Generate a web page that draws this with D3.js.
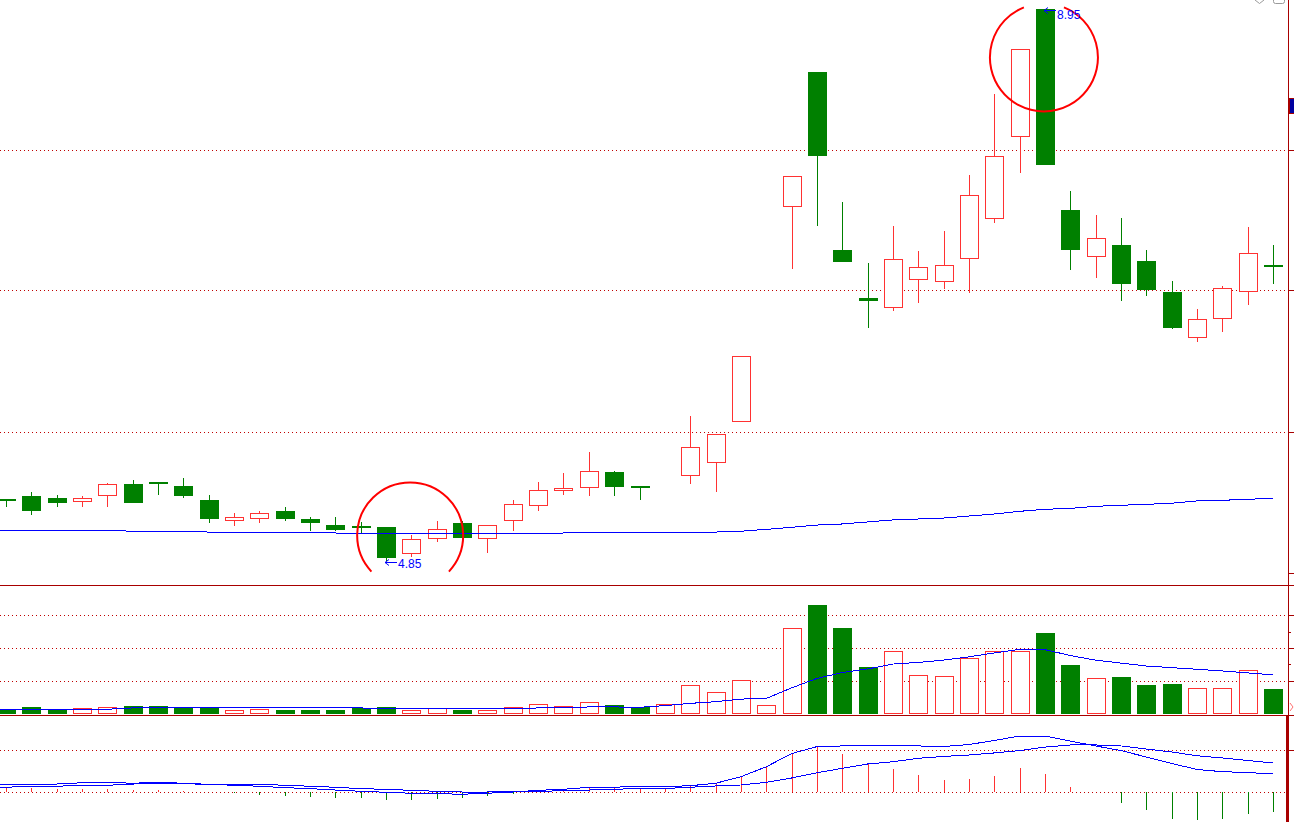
<!DOCTYPE html>
<html>
<head>
<meta charset="utf-8">
<script src="https://cdn.jsdelivr.net/npm/d3@7/dist/d3.min.js"></script>
<style>
html,body{margin:0;padding:0;background:#ffffff;overflow:hidden}
svg{display:block}
</style>
</head>
<body>
<svg id="chart" width="1294" height="822"></svg>
<script>
// ---------------- data ----------------
const dayIndex = [0,1,2,3,4,5,6,7,8,9,10,11,12,13,14,15,16,17,18,19,20,21,22,23,24,25,26,27,28,29,30,31,32,33,34,35,36,37,38,39,40,41,42,43,44,45,46,47,48,49,50];
// null = one-price day, no candle drawn
const openP  = [5.31,5.33,5.32,5.29,5.33,5.42,5.44,5.41,5.30,5.15,5.16,5.22,5.16,5.12,5.11,5.10,4.90,5.01,5.13,5.01,5.15,5.26,5.37,5.39,5.51,5.41,null,5.48,5.58,5.88,null,7.48,8.48,7.16,6.80,6.73,6.94,6.92,7.09,7.39,8.00,8.95,7.46,7.11,7.20,7.08,6.85,6.51,6.65,6.85,7.05];
const highP  = [5.31,5.36,5.34,5.33,5.43,5.45,5.44,5.47,5.34,5.21,5.22,5.25,5.18,5.18,5.14,5.10,5.04,5.15,5.15,5.12,5.30,5.44,5.50,5.66,5.52,5.41,null,5.93,5.79,6.37,null,7.71,8.48,7.52,7.06,7.34,7.15,7.30,7.72,8.32,8.65,8.95,7.60,7.42,7.40,7.16,6.93,6.72,6.89,7.33,7.20];
const lowP   = [5.25,5.19,5.25,5.25,5.25,5.28,5.34,5.32,5.13,5.11,5.13,5.15,5.07,5.07,5.05,4.85,4.88,4.99,5.02,4.91,5.07,5.22,5.34,5.33,5.33,5.30,null,5.42,5.36,5.88,null,7.02,7.34,7.07,6.58,6.71,6.77,6.87,6.84,7.36,7.73,7.79,7.01,6.95,6.78,6.82,6.57,6.48,6.55,6.75,6.91];
const closeP = [5.30,5.22,5.28,5.32,5.42,5.28,5.42,5.33,5.16,5.18,5.21,5.16,5.13,5.08,5.10,4.87,5.01,5.09,5.02,5.12,5.27,5.38,5.39,5.52,5.40,5.40,null,5.70,5.79,6.37,null,7.71,7.86,7.07,6.78,7.09,7.03,7.05,7.57,7.86,8.65,7.79,7.16,7.25,6.91,6.86,6.58,6.65,6.88,7.14,7.04];
const priceMA = [5.073,5.078,5.078,5.078,5.078,5.071,5.071,5.071,5.065,5.065,5.058,5.058,5.058,5.058,5.051,5.051,5.051,5.051,5.051,5.051,5.051,5.051,5.058,5.058,5.058,5.058,5.058,5.065,5.065,5.071,5.085,5.100,5.117,5.125,5.140,5.155,5.162,5.169,5.184,5.199,5.219,5.234,5.241,5.256,5.264,5.271,5.279,5.296,5.301,5.308,5.316];
const volume = [13,20,13,17,20,23,23,20,20,11,14,11,11,11,16,20,12,17,12,11,20,28,23,34,26,19,28,86,65,101,25,260,331,261,142,190,117,114,169,190,190,246,148,107,111,87,90,77,77,132,75];
const volumeMA = [13,13,13,13,13,17,17,17,17,17,17,17,17,17,17,14,14,14,14,14,14,17,17,20,20,19,24,31,36,44,46,78,107,125,136,151,156,163,173,185,196,195,177,163,154,145,140,135,130,124,118];
const dif = [0.057,0.057,0.057,0.066,0.071,0.062,0.071,0.062,0.055,0.048,0.041,0.031,0.024,0.014,0.005,-0.002,-0.009,-0.012,-0.016,-0.009,0.000,0.012,0.019,0.034,0.034,0.041,0.038,0.045,0.062,0.109,0.180,0.274,0.324,0.329,0.329,0.329,0.329,0.325,0.339,0.368,0.400,0.400,0.364,0.329,0.296,0.250,0.204,0.161,0.145,0.139,0.129];
const dea = [0.034,0.041,0.041,0.048,0.048,0.057,0.059,0.059,0.055,0.055,0.055,0.048,0.041,0.034,0.024,0.019,0.012,0.005,0.000,0.000,0.002,0.005,0.009,0.014,0.019,0.026,0.025,0.034,0.043,0.050,0.069,0.100,0.137,0.169,0.200,0.216,0.241,0.254,0.264,0.279,0.296,0.321,0.336,0.336,0.329,0.307,0.286,0.259,0.243,0.225,0.207];
const macdHist = [0.034,0.029,0.021,0.021,0.021,0.014,0.014,0.009,0.000,-0.009,-0.021,-0.029,-0.036,-0.043,-0.043,-0.057,-0.057,-0.050,-0.043,-0.029,-0.014,0.000,0.014,0.034,0.026,0.026,0.026,0.043,0.055,0.109,0.176,0.269,0.319,0.271,0.200,0.164,0.121,0.086,0.093,0.114,0.171,0.129,0.036,-0.003,-0.076,-0.129,-0.191,-0.200,-0.191,-0.157,-0.143];
const priceGrid = [7.90, 6.86, 5.81];
const priceTicks = [7.90, 6.86, 5.81, 4.76];
const volGrid = [100, 200, 300];
const volTicks = [100, 150, 200, 250, 300];
const macdGrid = [0.3];
const markLow  = {label: "4.85", index: 15, price: 4.85, circleIndex: 15.95, circlePrice: 5.04};
const markHigh = {label: "8.95", index: 41, price: 8.95, circleIndex: 40.96, circlePrice: 8.59};

// ---------------- layout ----------------
const RED = '#ff3232', GREEN = '#008000', BLUE = '#0000ff';
const AXIS = '#a80000', GRID = '#c00000', RING = '#ff0000';
const AXIS_X = 1288;
const svg = d3.select('#chart');

const x  = d3.scaleLinear().domain([0, 50]).range([6, 1273]);
const y  = d3.scaleLinear().domain([4.85, 8.95]).range([561, 9]);
const yv = d3.scaleLinear().domain([0, 300]).range([713.5, 615.25]);
const ym = d3.scaleLinear().domain([0, 0.3]).range([792, 750]);

const defs = svg.append('defs');
defs.append('clipPath').attr('id','cPrice').append('rect').attr('x',0).attr('y',0).attr('width',AXIS_X).attr('height',585);
defs.append('clipPath').attr('id','cVol').append('rect').attr('x',0).attr('y',586).attr('width',AXIS_X).attr('height',129);
defs.append('clipPath').attr('id','cMacd').append('rect').attr('x',0).attr('y',716).attr('width',AXIS_X - 2).attr('height',106);

const cx = i => Math.round(x(i));
const isUp = i => openP[i] == null || closeP[i] >= openP[i];
// lines continue flat to the panel's left edge (series enters from off-screen)
const leftEdge = x.invert(0);
function seriesPath(arr, sc){
  const pts = [[x(leftEdge), sc(arr[0])]].concat(dayIndex.map(i => [x(i), sc(arr[i])]));
  return d3.line()(pts);
}

// ---------------- grid ----------------
const gridG = svg.append('g').attr('shape-rendering','crispEdges');
function dotted(yy){
  gridG.append('line').attr('x1',0).attr('x2',AXIS_X).attr('y1',Math.round(yy)+0.5).attr('y2',Math.round(yy)+0.5)
    .attr('stroke',GRID).attr('stroke-width',1).attr('stroke-dasharray','1,3');
}
priceGrid.forEach(v => dotted(y(v)));
volGrid.forEach(v => dotted(yv(v)));
macdGrid.forEach(v => dotted(ym(v)));
dotted(ym(0));

// ---------------- price panel ----------------
const pG = svg.append('g').attr('clip-path','url(#cPrice)').attr('shape-rendering','crispEdges');
dayIndex.forEach(i => {
  if (openP[i] == null) return;
  const o = openP[i], c = closeP[i], h = highP[i], l = lowP[i];
  const X = cx(i);
  let t = Math.round(y(Math.max(o,c))), b = Math.round(y(Math.min(o,c)));
  if (b - t < 2) b = t + 2;
  const yh = Math.round(y(h)), yl = Math.round(y(l));
  if (isUp(i)) {
    if (yh < t) pG.append('line').attr('x1',X+0.5).attr('x2',X+0.5).attr('y1',yh).attr('y2',t).attr('stroke',RED);
    if (yl > b) pG.append('line').attr('x1',X+0.5).attr('x2',X+0.5).attr('y1',b).attr('y2',yl).attr('stroke',RED);
    pG.append('rect').attr('x',X-9+0.5).attr('y',t+0.5).attr('width',18).attr('height',Math.max(1,b-t-1))
      .attr('fill','#ffffff').attr('stroke',RED).attr('stroke-width',1);
  } else {
    pG.append('line').attr('x1',X+0.5).attr('x2',X+0.5).attr('y1',yh).attr('y2',Math.max(yl,b)).attr('stroke',GREEN);
    pG.append('rect').attr('x',X-9).attr('y',t).attr('width',19).attr('height',b-t).attr('fill',GREEN);
  }
});
pG.append('path').attr('d', seriesPath(priceMA, y))
  .attr('fill','none').attr('stroke',BLUE).attr('stroke-width',1);

// rings and labels
function ring(ci, cp, r, gapCenter, gapHalf){
  const p = d3.path();
  const a0 = gapCenter + gapHalf, a1 = gapCenter - gapHalf + 2*Math.PI;
  const X = x(ci), Y = y(cp);
  p.moveTo(X + r*Math.cos(a0), Y + r*Math.sin(a0));
  p.arc(X, Y, r, a0, a1, false);
  svg.append('path').attr('d', p.toString()).attr('fill','none').attr('stroke',RING).attr('stroke-width',2);
}
ring(markLow.circleIndex, markLow.circlePrice, 53, Math.PI/2, 0.82);
ring(markHigh.circleIndex, markHigh.circlePrice, 54, -Math.PI/2, 0.38);

function arrowLabel(m, dy, textDy){
  const X = cx(m.index) - 1, Y = Math.round(y(m.price)) + dy + 0.5;
  const g = svg.append('g');
  g.append('path').attr('d',`M${X+12},${Y}H${X}M${X+4},${Y-3}L${X},${Y}L${X+4},${Y+3}`)
    .attr('fill','none').attr('stroke',BLUE).attr('stroke-width',1);
  g.append('text').attr('x',X+13).attr('y',Y+textDy).text(m.label)
    .attr('fill',BLUE).attr('font-family','"Liberation Sans", Arial, sans-serif').attr('font-size',12);
}
arrowLabel(markLow, 1, 5);
arrowLabel(markHigh, 1, 8.5);

// ---------------- volume panel ----------------
const vG = svg.append('g').attr('clip-path','url(#cVol)').attr('shape-rendering','crispEdges');
dayIndex.forEach(i => {
  const X = cx(i);
  const t = Math.round(yv(volume[i]));
  if (isUp(i)) {
    vG.append('rect').attr('x',X-9+0.5).attr('y',t+0.5).attr('width',18).attr('height',713-t)
      .attr('fill','#ffffff').attr('stroke',RED).attr('stroke-width',1);
  } else {
    vG.append('rect').attr('x',X-9).attr('y',t).attr('width',19).attr('height',714-t).attr('fill',GREEN);
  }
});
vG.append('path').attr('d', seriesPath(volumeMA, yv))
  .attr('fill','none').attr('stroke',BLUE).attr('stroke-width',1);

// ---------------- MACD panel ----------------
const mG = svg.append('g').attr('clip-path','url(#cMacd)').attr('shape-rendering','crispEdges');
dayIndex.forEach(i => {
  const v = macdHist[i];
  if (Math.abs(v) < 0.001) return;
  const X = cx(i) + 0.5;
  mG.append('line').attr('x1',X).attr('x2',X).attr('y1',ym(0)).attr('y2',ym(v))
    .attr('stroke', v > 0 ? RED : GREEN).attr('stroke-width',1);
});
[dif, dea].forEach(arr => {
  mG.append('path').attr('d', seriesPath(arr, ym))
    .attr('fill','none').attr('stroke',BLUE).attr('stroke-width',1);
});

// ---------------- frame / axis ----------------
const fG = svg.append('g').attr('shape-rendering','crispEdges');
[585, 715].forEach(yy => fG.append('line').attr('x1',0).attr('x2',1294).attr('y1',yy+0.5).attr('y2',yy+0.5)
  .attr('stroke',AXIS).attr('stroke-width',1));
fG.append('line').attr('x1',AXIS_X+0.5).attr('x2',AXIS_X+0.5).attr('y1',0).attr('y2',822).attr('stroke',AXIS);
fG.append('rect').attr('x',AXIS_X-2).attr('y',716).attr('width',3).attr('height',106).attr('fill',AXIS);
function tick(yy, len){
  fG.append('line').attr('x1',AXIS_X).attr('x2',AXIS_X+len).attr('y1',Math.round(yy)+0.5).attr('y2',Math.round(yy)+0.5).attr('stroke',AXIS);
}
priceTicks.forEach(v => tick(y(v), 6));
volTicks.forEach(v => tick(yv(v), volGrid.includes(v) ? 6 : 3));
macdGrid.forEach(v => tick(ym(v), 6));

// price marker box on axis
fG.append('rect').attr('x',AXIS_X+1.5).attr('y',98.5).attr('width',6).attr('height',15)
  .attr('fill','#0000a0').attr('stroke',AXIS);
// small chevron in volume panel axis
svg.append('path').attr('d','M1290,703L1293,707L1290,711').attr('fill','none').attr('stroke','#ff7070').attr('stroke-width',1);
// top-right window icons
svg.append('path').attr('d','M1255,0L1259.5,3.5L1264,0').attr('fill','none').attr('stroke','#9a9a9a').attr('stroke-width',1);
svg.append('rect').attr('x',1273.5).attr('y',-5.5).attr('width',11).attr('height',9).attr('rx',2)
  .attr('fill','none').attr('stroke','#9a9a9a').attr('stroke-width',1);
</script>
</body>
</html>
